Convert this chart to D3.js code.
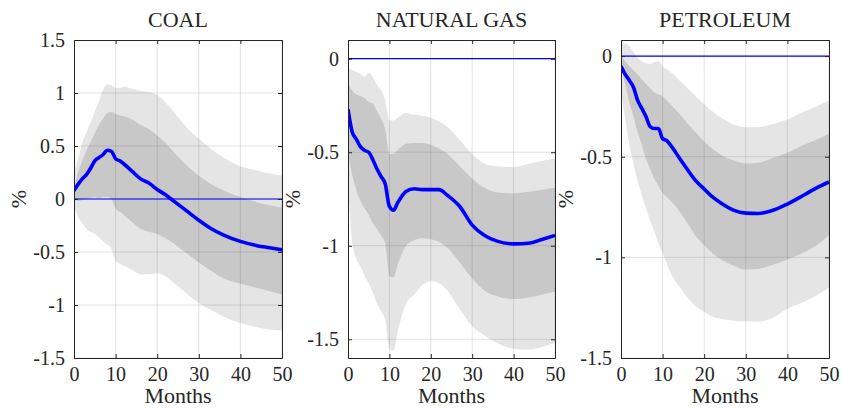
<!DOCTYPE html>
<html>
<head>
<meta charset="utf-8">
<script src="https://cdn.jsdelivr.net/npm/d3@7"></script>
<style>
  body { margin: 0; background: #fff; }
  text { font-family: "Liberation Serif", "Times New Roman", serif; fill: #262626; }
</style>
</head>
<body>
<div id="chart"></div>
<script>
// months after the shock
var months = [0, 1, 2, 3, 4, 5, 6, 7, 8, 9, 10, 11, 12, 14, 16, 18, 20, 22, 24, 27, 30, 33, 36, 40, 44, 47, 50];
var xTicks = [0, 10, 20, 30, 40, 50];

// COAL
var coalMedian = [0.08, 0.14, 0.19, 0.23, 0.29, 0.36, 0.39, 0.42, 0.46, 0.45, 0.38, 0.36, 0.33, 0.26, 0.19, 0.15, 0.09, 0.04, -0.02, -0.11, -0.20, -0.28, -0.34, -0.40, -0.44, -0.46, -0.48];
var coalInnerHi = [0.09, 0.25, 0.36, 0.46, 0.54, 0.62, 0.70, 0.76, 0.81, 0.82, 0.80, 0.79, 0.78, 0.75, 0.70, 0.66, 0.60, 0.53, 0.44, 0.32, 0.22, 0.14, 0.08, 0.02, -0.03, -0.06, -0.08];
var coalInnerLo = [-0.01, -0.02, -0.01, 0.0, 0.01, 0.02, 0.01, 0.02, 0.02, 0.0, -0.09, -0.12, -0.15, -0.22, -0.28, -0.31, -0.33, -0.37, -0.42, -0.51, -0.60, -0.68, -0.75, -0.80, -0.84, -0.87, -0.90];
var coalOuterHi = [0.25, 0.38, 0.53, 0.63, 0.72, 0.82, 0.92, 1.03, 1.08, 1.07, 1.05, 1.05, 1.06, 1.04, 1.02, 1.01, 0.98, 0.91, 0.82, 0.68, 0.57, 0.47, 0.39, 0.31, 0.27, 0.24, 0.22];
var coalOuterLo = [-0.07, -0.17, -0.23, -0.28, -0.31, -0.33, -0.36, -0.40, -0.43, -0.47, -0.58, -0.61, -0.63, -0.67, -0.71, -0.71, -0.70, -0.73, -0.79, -0.89, -0.98, -1.05, -1.11, -1.17, -1.21, -1.23, -1.24];
var coalTicks = [-1.5, -1, -0.5, 0, 0.5, 1, 1.5];

// NATURAL GAS
var gasMedian = [-0.27, -0.39, -0.43, -0.47, -0.49, -0.50, -0.54, -0.59, -0.63, -0.67, -0.79, -0.81, -0.77, -0.71, -0.695, -0.70, -0.70, -0.70, -0.73, -0.79, -0.89, -0.945, -0.975, -0.99, -0.985, -0.965, -0.945];
var gasInnerHi = [-0.13, -0.17, -0.19, -0.20, -0.21, -0.23, -0.24, -0.28, -0.32, -0.38, -0.51, -0.51, -0.49, -0.455, -0.45, -0.45, -0.46, -0.48, -0.51, -0.575, -0.64, -0.69, -0.715, -0.72, -0.71, -0.70, -0.69];
var gasInnerLo = [-0.50, -0.62, -0.70, -0.76, -0.80, -0.835, -0.88, -0.91, -0.945, -0.99, -1.16, -1.17, -1.10, -1.0, -0.97, -0.96, -0.965, -0.98, -1.01, -1.09, -1.175, -1.24, -1.27, -1.285, -1.275, -1.26, -1.245];
var gasOuterHi = [-0.05, -0.06, -0.07, -0.08, -0.095, -0.075, -0.10, -0.14, -0.17, -0.22, -0.33, -0.33, -0.315, -0.29, -0.30, -0.305, -0.315, -0.335, -0.365, -0.435, -0.51, -0.56, -0.575, -0.58, -0.56, -0.545, -0.535];
var gasOuterLo = [-0.66, -0.98, -1.07, -1.11, -1.16, -1.20, -1.25, -1.31, -1.35, -1.40, -1.55, -1.56, -1.46, -1.31, -1.26, -1.21, -1.19, -1.20, -1.24, -1.34, -1.43, -1.48, -1.52, -1.55, -1.555, -1.54, -1.52];
var gasTicks = [-1.5, -1, -0.5, 0];

// PETROLEUM
var petrolMedian = [-0.05, -0.09, -0.12, -0.155, -0.22, -0.26, -0.30, -0.35, -0.36, -0.36, -0.41, -0.42, -0.445, -0.505, -0.565, -0.62, -0.66, -0.70, -0.73, -0.765, -0.78, -0.782, -0.77, -0.735, -0.69, -0.655, -0.625];
var petrolInnerHi = [-0.005, -0.025, -0.05, -0.07, -0.09, -0.115, -0.14, -0.16, -0.18, -0.19, -0.20, -0.22, -0.24, -0.285, -0.335, -0.38, -0.425, -0.46, -0.49, -0.518, -0.533, -0.53, -0.51, -0.48, -0.44, -0.415, -0.386];
var petrolInnerLo = [-0.055, -0.14, -0.23, -0.30, -0.38, -0.44, -0.51, -0.56, -0.61, -0.645, -0.68, -0.70, -0.72, -0.77, -0.83, -0.895, -0.94, -0.98, -1.01, -1.04, -1.06, -1.058, -1.04, -1.01, -0.975, -0.94, -0.89];
var petrolOuterHi = [0.065, 0.06, 0.05, 0.02, -0.01, -0.025, -0.035, -0.038, -0.03, -0.025, -0.05, -0.065, -0.08, -0.12, -0.16, -0.20, -0.24, -0.275, -0.305, -0.34, -0.353, -0.353, -0.34, -0.315, -0.275, -0.25, -0.22];
var petrolOuterLo = [-0.18, -0.31, -0.44, -0.535, -0.62, -0.69, -0.755, -0.815, -0.87, -0.93, -0.98, -1.03, -1.08, -1.145, -1.20, -1.245, -1.27, -1.295, -1.305, -1.315, -1.318, -1.32, -1.305, -1.255, -1.22, -1.19, -1.15];
var petrolTicks = [-1.5, -1, -0.5, 0];

var w = 842,
  h = 408,
  plotTop = 40,
  plotBottom = 358,
  axisColor = "#262626";

var panels = [
  {title: "COAL", left: 74, right: 282, yMin: -1.5, yMax: 1.5, ticks: coalTicks,
    med: coalMedian, iHi: coalInnerHi, iLo: coalInnerLo, oHi: coalOuterHi, oLo: coalOuterLo},
  {title: "NATURAL GAS", left: 348, right: 555, yMin: -1.6, yMax: 0.1, ticks: gasTicks,
    med: gasMedian, iHi: gasInnerHi, iLo: gasInnerLo, oHi: gasOuterHi, oLo: gasOuterLo},
  {title: "PETROLEUM", left: 621, right: 829, yMin: -1.5, yMax: 0.08, ticks: petrolTicks,
    med: petrolMedian, iHi: petrolInnerHi, iLo: petrolInnerLo, oHi: petrolOuterHi, oLo: petrolOuterLo}
];

var chart = d3.select("#chart").
append("svg").
attr("width", w).
attr("height", h).
attr("style", "background-color: white;");

panels.forEach(function(p, k) {
  var x = d3.scaleLinear().domain([0, 50]).range([p.left, p.right]);
  var y = d3.scaleLinear().domain([p.yMin, p.yMax]).range([plotBottom, plotTop]);

  var g = chart.append("g");

  g.append("clipPath").attr("id", "clip" + k).
  append("rect").
  attr("x", p.left).attr("y", plotTop).
  attr("width", p.right - p.left).attr("height", plotBottom - plotTop);

  var plot = g.append("g").attr("clip-path", "url(#clip" + k + ")");

  var band = function(hi, lo) {
    return d3.area()
      .x(function(d, i) { return x(months[i]); })
      .y0(function(d, i) { return y(lo[i]); })
      .y1(function(d, i) { return y(hi[i]); })
      .curve(d3.curveMonotoneX)(months);
  };

  plot.append("path").attr("d", band(p.oHi, p.oLo)).attr("fill", "#e5e5e5");
  plot.append("path").attr("d", band(p.iHi, p.iLo)).attr("fill", "#c8c8c8");

  // grid on top of the bands
  plot.selectAll(".gx").data(xTicks).enter().append("line").
  attr("x1", function(d) { return x(d); }).attr("x2", function(d) { return x(d); }).
  attr("y1", plotTop).attr("y2", plotBottom).
  attr("stroke", axisColor).attr("stroke-opacity", 0.13).attr("stroke-width", 1);

  plot.selectAll(".gy").data(p.ticks).enter().append("line").
  attr("x1", p.left).attr("x2", p.right).
  attr("y1", function(d) { return y(d); }).attr("y2", function(d) { return y(d); }).
  attr("stroke", axisColor).attr("stroke-opacity", 0.13).attr("stroke-width", 1);

  plot.append("line").
  attr("x1", p.left).attr("x2", p.right).
  attr("y1", y(0)).attr("y2", y(0)).
  attr("stroke", "#0000ff").attr("stroke-width", 1.2);

  var line = d3.line()
    .x(function(d, i) { return x(months[i]); })
    .y(function(d) { return y(d); })
    .curve(d3.curveMonotoneX);

  plot.append("path").
  attr("d", line(p.med)).
  attr("fill", "none").
  attr("stroke", "#0000ff").
  attr("stroke-width", 3.6).
  attr("stroke-linejoin", "round");

  // axes: box with inward ticks on all sides
  var bx = d3.axisBottom(x).tickValues(xTicks).tickSizeInner(-4).tickSizeOuter(0).tickPadding(9);
  var tx = d3.axisTop(x).tickValues(xTicks).tickSizeInner(-4).tickSizeOuter(0).tickFormat("");
  var ly = d3.axisLeft(y).tickValues(p.ticks).tickSizeInner(-4).tickSizeOuter(0).tickPadding(9).tickFormat(d3.format(""));
  var ry = d3.axisRight(y).tickValues(p.ticks).tickSizeInner(-4).tickSizeOuter(0).tickFormat("");

  g.append("g").attr("class", "axis").attr("transform", "translate(0," + plotBottom + ")").call(bx);
  g.append("g").attr("class", "axis").attr("transform", "translate(0," + plotTop + ")").call(tx);
  g.append("g").attr("class", "axis").attr("transform", "translate(" + p.left + ",0)").call(ly);
  g.append("g").attr("class", "axis").attr("transform", "translate(" + p.right + ",0)").call(ry);

  g.append("text").
  attr("x", (p.left + p.right) / 2).
  attr("y", 27).
  style("text-anchor", "middle").
  style("font-size", "22px").
  text(p.title);

  g.append("text").
  attr("x", (p.left + p.right) / 2).
  attr("y", 403).
  style("text-anchor", "middle").
  style("font-size", "22px").
  text("Months");

  g.append("text").
  attr("transform", "translate(" + (p.left - 48) + "," + y((p.yMin + p.yMax) / 2) + ") rotate(-90)").
  style("text-anchor", "middle").
  style("font-size", "22px").
  text("%");
});

d3.selectAll(".axis").selectAll(".domain").attr("stroke", axisColor).attr("stroke-width", 1);
d3.selectAll(".axis").selectAll("line").attr("stroke", axisColor);
d3.selectAll(".axis").selectAll("text").
attr("fill", axisColor).
style("font-size", "20px").
style("font-family", "'Liberation Serif', serif");
d3.selectAll(".axis").selectAll("text").text(function() { return this.textContent.replace("\u2212", "-"); });
</script>
</body>
</html>
